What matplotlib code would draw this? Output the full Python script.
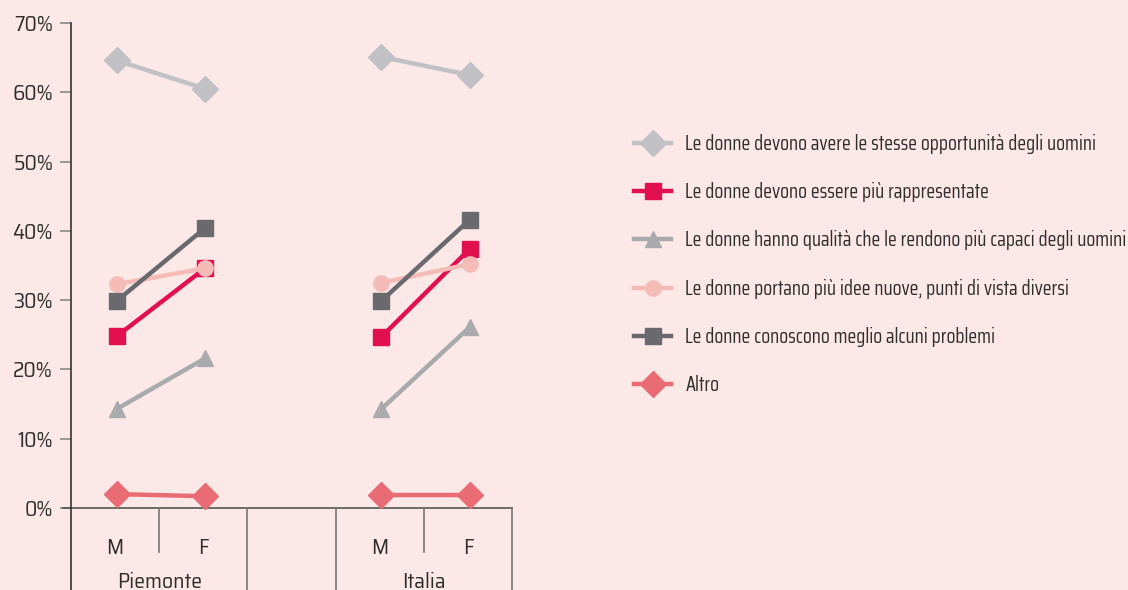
import matplotlib
matplotlib.use("Agg")
import matplotlib.pyplot as plt
from matplotlib.lines import Line2D
import matplotlib.transforms as mtransforms

AXFONT = ['Saira SemiCondensed', 'DejaVu Sans']
LEGFONT = ['Saira Condensed', 'DejaVu Sans']
plt.rcParams['font.family'] = AXFONT

BG = '#fce8e6'
TXT = '#2e2e2e'

categories = ['M', 'F', '', 'M', 'F']
groups = ['Piemonte', 'Italia']

series_labels = [
    'Le donne devono avere le stesse opportunità degli uomini',
    'Le donne devono essere più rappresentate',
    'Le donne hanno qualità che le rendono più capaci degli uomini',
    'Le donne portano più idee nuove, punti di vista diversi',
    'Le donne conoscono meglio alcuni problemi',
    'Altro',
]

piemonte = [
    [64.6, 60.5],
    [24.8, 34.6],
    [14.3, 21.6],
    [32.3, 34.6],
    [29.9, 40.4],
    [2.0, 1.7],
]
italia = [
    [65.1, 62.5],
    [24.7, 37.4],
    [14.3, 26.1],
    [32.5, 35.2],
    [29.9, 41.6],
    [1.9, 1.9],
]

colors = ['#c1c1c5', '#e3104f', '#a9aaac', '#f5bcb7', '#6a6a6e', '#e96c74']
markers = ['D', 's', '^', 'o', 's', 'D']
msizes = [13, 11, 11, 11, 11, 13]

fig = plt.figure(figsize=(11.28, 5.9), dpi=100, facecolor=BG)
ax = fig.add_axes([71/1128, 1-508/590, (512-71)/1128, (508-23)/590])
ax.set_facecolor(BG)

xpos_p = [0.02, 1.02]
xpos_i = [3.02, 4.02]

for k in range(len(series_labels)):
    ax.plot(xpos_p, piemonte[k], color=colors[k], lw=3.2, marker=markers[k],
            ms=msizes[k], zorder=3 + k, clip_on=False)
    ax.plot(xpos_i, italia[k], color=colors[k], lw=3.2, marker=markers[k],
            ms=msizes[k], zorder=3 + k, clip_on=False)

ax.set_xlim(-0.5, 4.5)
ax.set_ylim(0, 70)
ax.set_yticks(range(0, 71, 10))
ax.set_yticklabels([f'{v}%' for v in range(0, 71, 10)], fontsize=15.5, color=TXT)
ax.tick_params(axis='y', length=8, width=1.2, color='#888888', pad=5)
ax.set_xticks([])

for s in ['top', 'right', 'bottom']:
    ax.spines[s].set_visible(False)
ax.spines['left'].set_color('#333333')
ax.spines['left'].set_linewidth(1.2)
ax.spines['left'].set_bounds(0, 70)

trans = mtransforms.blended_transform_factory(ax.transData, ax.transAxes)
ax.plot([-0.59, 4.5], [0, 0], transform=trans, color='#555555', lw=1.2, clip_on=False)
ax.plot([-0.5, -0.5], [0, -0.2], transform=trans, color='#333333', lw=1.2, clip_on=False)
for xv, ybot in [(0.5, -0.0907), (1.5, -0.2), (2.5, -0.2), (3.5, -0.0907), (4.5, -0.2)]:
    ax.plot([xv, xv], [0, ybot], transform=trans, color='#777777', lw=1.2, clip_on=False)

for i, c in enumerate(categories):
    if c:
        ax.text(i, -0.082, c, transform=trans, ha='center', va='center', fontsize=15.5,
                color=TXT)
ax.text(0.5, -0.152, groups[0], transform=trans, ha='center', va='center', fontsize=15.5,
        color=TXT)
ax.text(3.5, -0.152, groups[1], transform=trans, ha='center', va='center', fontsize=15.5,
        color=TXT)

leg_handles = [Line2D([0], [0], color=colors[k], lw=3.2, marker=markers[k], ms=msizes[k])
               for k in range(len(series_labels))]
leg = fig.legend(leg_handles, series_labels, loc='upper left',
                 bbox_to_anchor=(634/1128, 1-134/590), frameon=False,
                 prop={'family': LEGFONT, 'size': 14.5},
                 labelspacing=1.40, handlelength=1.85, handletextpad=0.7,
                 borderaxespad=0, borderpad=0)
for t in leg.get_texts():
    t.set_color(TXT)

fig.savefig('out.png', dpi=100, facecolor=BG)
